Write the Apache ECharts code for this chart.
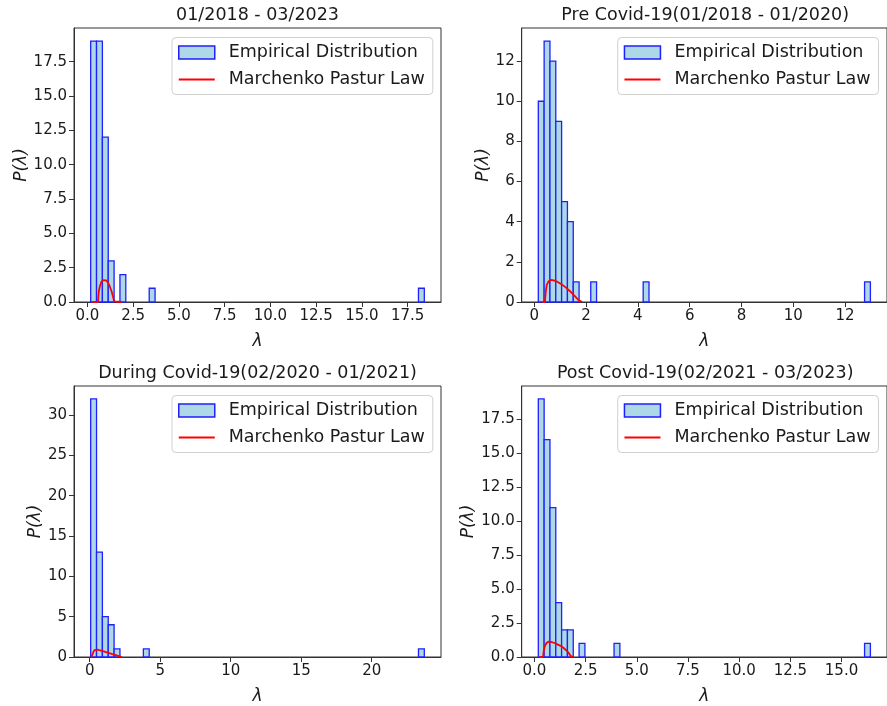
<!DOCTYPE html>
<html>
<head>
<meta charset="utf-8">
<script src="https://cdn.jsdelivr.net/npm/echarts@6/dist/echarts.min.js"></script>
<style>
  html, body { margin: 0; padding: 0; background: #fff; }
  #chart { width: 887px; height: 706px; }
</style>
</head>
<body>
<div id="chart"></div>
<script>
// ---------- Data ----------
const titles = [
  "01/2018 - 03/2023",
  "Pre Covid-19(01/2018 - 01/2020)",
  "During Covid-19(02/2020 - 01/2021)",
  "Post Covid-19(02/2021 - 03/2023)"
];
const binCount = 57;
// smallest / largest eigenvalue of each period (histogram range)
const p1Range = [0.18, 18.41];
const p2Range = [0.154, 12.98];
const p3Range = [0.07, 23.73];
const p4Range = [0.19, 16.41];
// non-empty histogram bins (bin index) and their counts
const p1Bins = [0, 1, 2, 3, 5, 10, 56];
const p1Counts = [19, 19, 12, 3, 2, 1, 1];
const p2Bins = [0, 1, 2, 3, 4, 5, 6, 9, 18, 56];
const p2Counts = [10, 13, 12, 9, 5, 4, 1, 1, 1, 1];
const p3Bins = [0, 1, 2, 3, 4, 9, 56];
const p3Counts = [32, 13, 5, 4, 1, 1, 1];
const p4Bins = [0, 1, 2, 3, 4, 5, 7, 13, 56];
const p4Counts = [19, 16, 11, 4, 2, 2, 1, 1, 1];
// Marchenko-Pastur curve points [lambda, density]
const p1MP = [[0.27,0],[0.58,0],[0.62,0.75],[0.68,1.15],[0.76,1.45],[0.85,1.6],[0.93,1.63],[1.02,1.58],[1.12,1.42],[1.22,1.15],[1.32,0.78],[1.40,0.4],[1.46,0.05],[1.50,0],[1.9,0]];
const p2MP = [[0.31,0],[0.41,0],[0.44,0.5],[0.48,0.85],[0.55,1.03],[0.65,1.1],[0.75,1.08],[0.9,1.0],[1.05,0.88],[1.2,0.74],[1.37,0.55],[1.5,0.38],[1.63,0.2],[1.72,0.08],[1.79,0],[1.85,0]];
const p3MP = [[0.12,0],[0.2,0],[0.26,0.6],[0.33,0.85],[0.45,0.94],[0.6,0.9],[0.8,0.8],[1.0,0.7],[1.2,0.58],[1.4,0.47],[1.6,0.36],[1.8,0.26],[2.0,0.15],[2.2,0.04],[2.28,0]];
const p4MP = [[0.28,0],[0.42,0],[0.46,0.5],[0.52,0.85],[0.6,1.05],[0.7,1.13],[0.8,1.12],[0.95,1.05],[1.1,0.95],[1.25,0.84],[1.4,0.7],[1.55,0.5],[1.68,0.28],[1.78,0.06],[1.82,0],[1.9,0]];
// tick labels
const p1XTicks = [0, 2.5, 5, 7.5, 10, 12.5, 15, 17.5];
const p1YTicks = [0, 2.5, 5, 7.5, 10, 12.5, 15, 17.5];
const p2XTicks = [0, 2, 4, 6, 8, 10, 12];
const p2YTicks = [0, 2, 4, 6, 8, 10, 12];
const p3XTicks = [0, 5, 10, 15, 20];
const p3YTicks = [0, 5, 10, 15, 20, 25, 30];
const p4XTicks = [0, 2.5, 5, 7.5, 10, 12.5, 15];
const p4YTicks = [0, 2.5, 5, 7.5, 10, 12.5, 15, 17.5];

// ---------- Layout ----------
const FONT = 'DejaVu Sans';
const TXT = '#1a1a1a';
const panels = [
  {range: p1Range, bins: p1Bins, counts: p1Counts, mp: p1MP, xt: p1XTicks, yt: p1YTicks, xdec: 1, ydec: 1, left: 74, top: 28, h: 274},
  {range: p2Range, bins: p2Bins, counts: p2Counts, mp: p2MP, xt: p2XTicks, yt: p2YTicks, xdec: 0, ydec: 0, left: 521.7, top: 28, h: 274},
  {range: p3Range, bins: p3Bins, counts: p3Counts, mp: p3MP, xt: p3XTicks, yt: p3YTicks, xdec: 0, ydec: 0, left: 74, top: 386, h: 273},
  {range: p4Range, bins: p4Bins, counts: p4Counts, mp: p4MP, xt: p4XTicks, yt: p4YTicks, xdec: 1, ydec: 1, left: 521.7, top: 386, h: 273}
];
const W = 367;

function renderHist(params, api) {
  const p0 = api.coord([api.value(0), 0]);
  const p1 = api.coord([api.value(1), api.value(2)]);
  return {
    type: 'rect',
    shape: {x: p0[0], y: p1[1], width: p1[0] - p0[0], height: p0[1] - p1[1]},
    style: {fill: '#add8e6', stroke: '#1f1fff', lineWidth: 1.3}
  };
}

const grid = [], xAxis = [], yAxis = [], series = [], title = [], legend = [];
panels.forEach((p, i) => {
  const span = p.range[1] - p.range[0];
  const bw = span / binCount;
  const maxCount = Math.max(...p.counts);
  grid.push({left: p.left, top: p.top, width: W, height: p.h, show: true, borderColor: '#333', borderWidth: 1, containLabel: false});
  const tickLabel = {fontFamily: FONT, fontSize: 15, color: TXT};
  xAxis.push({
    type: 'value', gridIndex: i,
    min: p.range[0] - 0.05 * span, max: p.range[1] + 0.05 * span,
    splitLine: {show: false},
    axisLine: {show: true, onZero: false, lineStyle: {color: '#333', width: 1}},
    axisTick: {show: true, length: 5, lineStyle: {color: '#333'}, customValues: p.xt},
    axisLabel: Object.assign({margin: 7, customValues: p.xt, formatter: v => Number(v).toFixed(p.xdec)}, tickLabel),
    name: 'λ', nameLocation: 'middle', nameGap: 31,
    nameTextStyle: {fontFamily: FONT, fontStyle: 'italic', fontSize: 17, color: TXT}
  });
  yAxis.push({
    type: 'value', gridIndex: i,
    min: 0, max: maxCount * 1.05,
    splitLine: {show: false},
    axisLine: {show: true, onZero: false, lineStyle: {color: '#333', width: 1}},
    axisTick: {show: true, length: 5, lineStyle: {color: '#333'}, customValues: p.yt},
    axisLabel: Object.assign({margin: 7, customValues: p.yt, formatter: v => Number(v).toFixed(p.ydec)}, tickLabel),
    name: 'P(λ)', nameLocation: 'middle', nameGap: 25, nameRotate: 90,
    nameTextStyle: {fontFamily: FONT, fontStyle: 'italic', fontSize: 17, color: TXT}
  });
  const histData = p.bins.map((b, k) => [p.range[0] + b * bw, p.range[0] + (b + 1) * bw, p.counts[k]]);
  series.push({
    name: 'Empirical Distribution', type: 'custom', xAxisIndex: i, yAxisIndex: i,
    renderItem: renderHist, encode: {x: [0, 1], y: 2}, data: histData,
    itemStyle: {color: '#add8e6', borderColor: '#1f1fff'}, z: 2
  });
  series.push({
    name: 'Marchenko Pastur Law', type: 'line', xAxisIndex: i, yAxisIndex: i,
    data: p.mp, symbol: 'none', smooth: false, z: 3,
    lineStyle: {color: '#ff0000', width: 1.8}, itemStyle: {color: '#ff0000'}
  });
  title.push({
    text: titles[i], left: p.left + W / 2, top: p.top - 22, textAlign: 'center', padding: 0,
    textStyle: {fontFamily: FONT, fontSize: 17.5, fontWeight: 'normal', color: TXT}
  });
  legend.push({
    left: p.left + (i % 2 === 0 ? 98 : 96), top: p.top + 9.5,
    orient: 'vertical', itemWidth: 36, itemHeight: 13, itemGap: 9,
    padding: [6, 8, 6, 6],
    backgroundColor: 'rgba(255,255,255,0.8)', borderColor: '#d0d0d0', borderWidth: 1, borderRadius: 4,
    textStyle: {fontFamily: FONT, fontSize: 17.5, color: TXT, lineHeight: 18, padding: [0, 0, 0, 9]},
    selectedMode: false,
    data: [
      {name: 'Empirical Distribution', icon: 'rect', itemStyle: {color: '#add8e6', borderColor: '#1f1fff', borderWidth: 1.5}},
      {name: 'Marchenko Pastur Law', icon: 'path://M0,0 L60,0 L60,3.6 L0,3.6 Z', itemStyle: {color: '#ff0000', borderWidth: 0}}
    ]
  });
});

const chart = echarts.init(document.getElementById('chart'), null, {renderer: 'canvas'});
chart.setOption({
  animation: false,
  backgroundColor: '#ffffff',
  title, legend, grid, xAxis, yAxis, series
});
</script>
</body>
</html>
